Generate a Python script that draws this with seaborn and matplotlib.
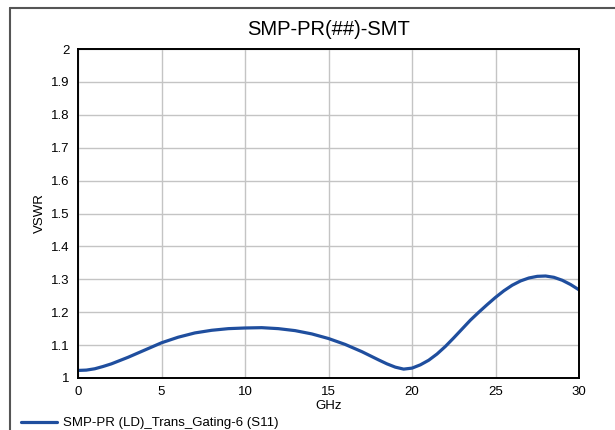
import matplotlib
matplotlib.use("Agg")
import matplotlib.pyplot as plt
import pandas as pd
import seaborn as sns

# values
freqGHz = [0, 0.5, 1, 1.5, 2, 3, 4, 5, 6, 7, 8, 9, 10, 11, 12, 13, 14, 15, 16, 17, 18,
           18.5, 19, 19.5, 20, 20.5, 21, 21.5, 22, 22.5, 23, 23.5, 24, 24.5, 25,
           25.5, 26, 26.5, 27, 27.5, 28, 28.5, 29, 29.5, 30]
vswr = [1.023, 1.024, 1.028, 1.035, 1.043, 1.063, 1.085, 1.107, 1.124, 1.137,
        1.145, 1.150, 1.152, 1.153, 1.150, 1.144, 1.134, 1.120, 1.102, 1.080,
        1.055, 1.043, 1.033, 1.027, 1.030, 1.040, 1.054, 1.073, 1.096, 1.122,
        1.149, 1.176, 1.200, 1.223, 1.245, 1.265, 1.282, 1.295, 1.304, 1.309,
        1.310, 1.306, 1.297, 1.284, 1.268]
seriesName = "SMP-PR (LD)_Trans_Gating-6 (S11)"
xTicks = [0, 5, 10, 15, 20, 25, 30]
yTicks = [1, 1.1, 1.2, 1.3, 1.4, 1.5, 1.6, 1.7, 1.8, 1.9, 2]
yTickLabels = ["1", "1.1", "1.2", "1.3", "1.4", "1.5", "1.6", "1.7", "1.8", "1.9", "2"]

sns.set_style("white")
plt.rcParams["font.family"] = ["Liberation Sans", "DejaVu Sans"]
plt.rcParams["text.color"] = "black"
plt.rcParams["axes.labelcolor"] = "black"

df = pd.DataFrame({"GHz": freqGHz, "VSWR": vswr, "series": seriesName})

fig = plt.figure(figsize=(6.15, 4.3), dpi=100)
ax = fig.add_axes([78 / 615, 1 - 378 / 430, (579 - 78) / 615, (378 - 49) / 430])

sns.lineplot(data=df, x="GHz", y="VSWR", hue="series", palette=["#1F4E9E"],
             linewidth=2.3, ax=ax, legend=False)

ax.set_xlim(0, 30)
ax.set_ylim(1, 2)
ax.set_xticks(xTicks)
ax.set_yticks(yTicks)
ax.set_yticklabels(yTickLabels)
ax.grid(True, color="#c4c4c4", linewidth=1)
ax.set_axisbelow(True)
for side in ax.spines.values():
    side.set_color("black")
    side.set_linewidth(1.4)
ax.tick_params(axis="both", direction="out", length=4, width=1, colors="black",
               labelsize=9.5, pad=2)
ax.set_xlabel("GHz", fontsize=9.5, labelpad=1, color="black")
ax.set_ylabel("VSWR", fontsize=9.5, labelpad=4, color="black")
ax.set_title("SMP-PR(##)-SMT", fontsize=14.5, pad=10, color="black")

handle = plt.Line2D([], [], color="#1F4E9E", linewidth=2.3)
fig.legend([handle], [seriesName], loc="lower left", bbox_to_anchor=(0.015, -0.026),
           frameon=False, fontsize=9.5, handlelength=2.7, handletextpad=0.5,
           labelcolor="black")

# outer frame of the chart: only its left and top edges are in view
frameX = 10 / 615
frameY = 1 - 8 / 430
fig.add_artist(plt.Line2D([frameX, frameX], [0, frameY], transform=fig.transFigure,
                          color="#555555", linewidth=1.5))
fig.add_artist(plt.Line2D([frameX, 1], [frameY, frameY], transform=fig.transFigure,
                          color="#555555", linewidth=1.5))

fig.savefig("out.png", dpi=100, facecolor="w")
plt.close(fig)
